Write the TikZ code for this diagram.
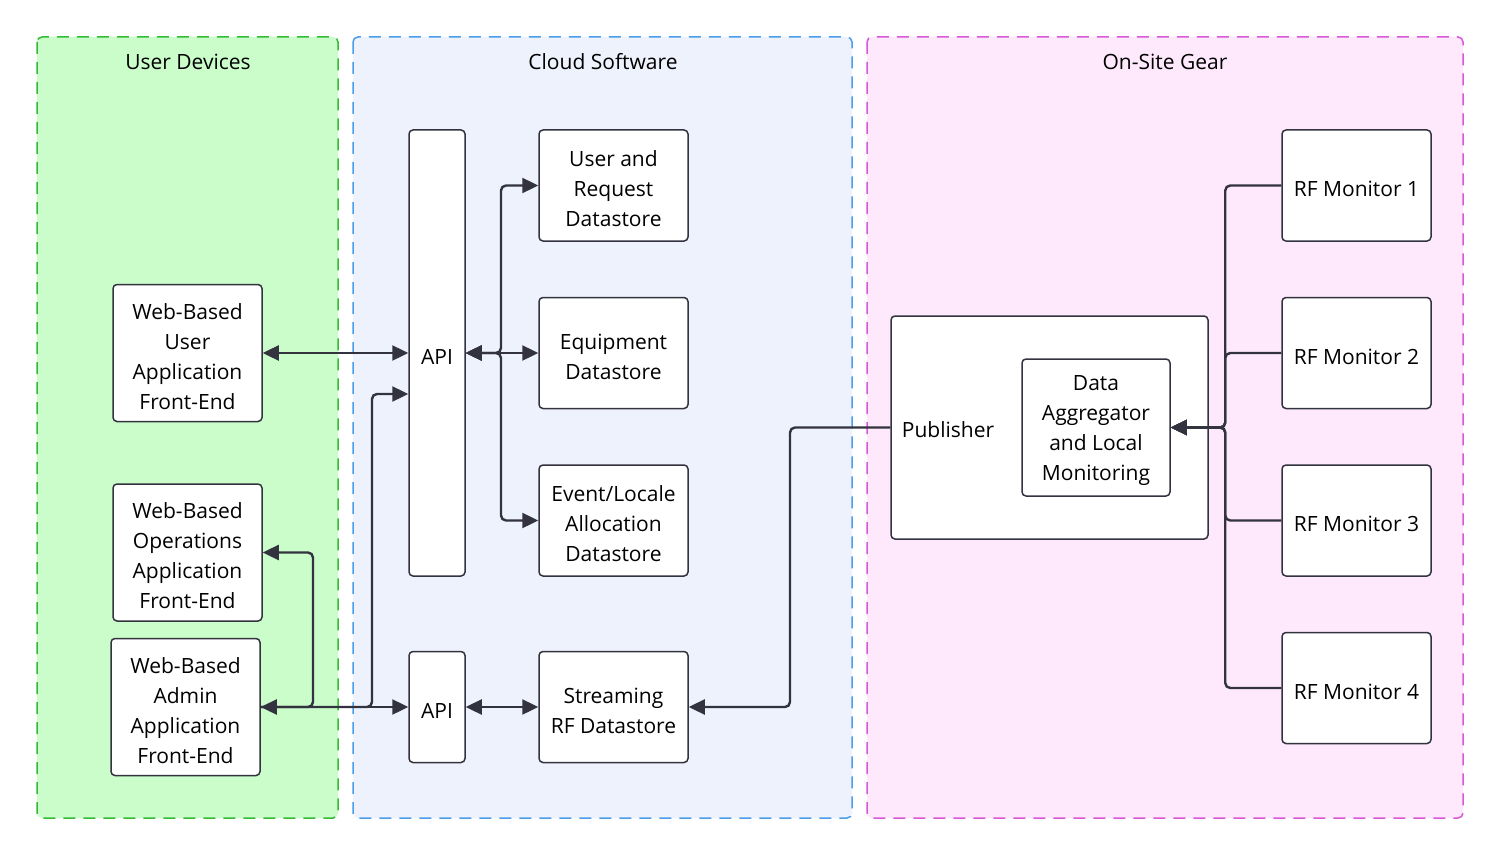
\documentclass[tikz,border=0pt]{standalone}
\usepackage{fontspec}
\setmainfont{Open Sans}
\usetikzlibrary{arrows.meta}
\definecolor{ink}{HTML}{33333F}
\definecolor{gfill}{HTML}{CBFDCB}
\definecolor{gline}{HTML}{33BB33}
\definecolor{bfill}{HTML}{EEF2FD}
\definecolor{bline}{HTML}{4A9DE8}
\definecolor{pfill}{HTML}{FDE9FB}
\definecolor{pline}{HTML}{D957D9}
\begin{document}
\begin{tikzpicture}[x=1pt,y=-1pt,
  every node/.style={font=\fontsize{21}{30}\selectfont, text=black},
  box/.style={draw=ink, line width=1.5pt, fill=white, rounded corners=4pt, inner sep=0pt},
  txt/.style={label={[align=center, inner sep=0pt, yshift=-3.5pt]center:#1}},
  grp/.style={line width=1.5pt, rounded corners=5pt, dash pattern=on 12pt off 8pt},
  conn/.style={draw=ink, line width=2.4pt, rounded corners=5pt},
  >={Triangle[length=16pt,width=15pt]}]
\path[use as bounding box, fill=white] (0,0) rectangle (1500,856);
% groups
\draw[grp, draw=gline, fill=gfill] (37,37) rectangle (338,818);
\draw[grp, draw=bline, fill=bfill] (353,37) rectangle (852,818);
\draw[grp, draw=pline, fill=pfill] (867,37) rectangle (1463,818);
\node (tud) at (188,62) {User Devices};
\node (tcs) at (603,62) {Cloud Software};
\node (tos) at (1165,62) {On-Site Gear};
% user devices
\node[box, minimum width=149pt, minimum height=137pt, txt={Web-Based\\User\\Application\\Front-End}] (user) at (187.5,353) {};
\node[box, minimum width=149pt, minimum height=137pt, txt={Web-Based\\Operations\\Application\\Front-End}] (ops) at (187.5,552.5) {};
\node[box, minimum width=149pt, minimum height=137pt, txt={Web-Based\\Admin\\Application\\Front-End}] (admin) at (185.5,707) {};
% cloud
\node[box, minimum width=56pt, minimum height=446pt, txt={API}] (api1) at (437,353) {};
\node[box, minimum width=56pt, minimum height=111pt, txt={API}] (api2) at (437,707) {};
\node[box, minimum width=149pt, minimum height=111pt, txt={User and\\Request\\Datastore}] (ds1) at (613.5,185.5) {};
\node[box, minimum width=149pt, minimum height=111pt, txt={Equipment\\Datastore}] (ds2) at (613.5,353) {};
\node[box, minimum width=149pt, minimum height=111pt, txt={Event/Locale\\Allocation\\Datastore}] (ds3) at (613.5,520.5) {};
\node[box, minimum width=149pt, minimum height=111pt, txt={Streaming\\RF Datastore}] (ds4) at (613.5,707) {};
% on-site
\node[box, minimum width=317pt, minimum height=223pt] (pub) at (1049.5,427.5) {};
\node (publbl) at (948,430) {Publisher};
\node[box, minimum width=148pt, minimum height=137pt, txt={Data\\Aggregator\\and Local\\Monitoring}] (agg) at (1096,427.5) {};
\node[box, minimum width=149pt, minimum height=111pt, txt={RF Monitor 1}] (m1) at (1356.5,185.5) {};
\node[box, minimum width=149pt, minimum height=111pt, txt={RF Monitor 2}] (m2) at (1356.5,353) {};
\node[box, minimum width=149pt, minimum height=111pt, txt={RF Monitor 3}] (m3) at (1356.5,520.5) {};
\node[box, minimum width=149pt, minimum height=111pt, txt={RF Monitor 4}] (m4) at (1356.5,688) {};
% helper coordinates
\coordinate (b1) at (501,353);
\coordinate (a1) at (372,707);
\coordinate (a2) at (313,707);
\coordinate (p1) at (790,427.5);
% connectors
\draw[conn, <->] (user.east) -- (api1.west);
\draw[conn, <->] (api1.east) -- (ds2.west);
\draw[conn, <->] (api1.east) -- (b1) |- (ds1.west);
\draw[conn, <->] (api1.east) -- (b1) |- (ds3.west);
\draw[conn, <->] (admin.east) -- (api2.west);
\draw[conn, ->] (admin.east) -- (a1) |- ([yshift=-41pt]api1.west);
\draw[conn, ->] (admin.east) -- (a2) |- (ops.east);
\draw[conn, <->] (api2.east) -- (ds4.west);
\draw[conn, ->] (pub.west) -- (p1) |- (ds4.east);
\foreach \m in {m1,m2,m3,m4}{
  \draw[conn, ->] (\m.west) -- ([xshift=-56pt]\m.west) |- (agg.east);
}
\end{tikzpicture}
\end{document}
